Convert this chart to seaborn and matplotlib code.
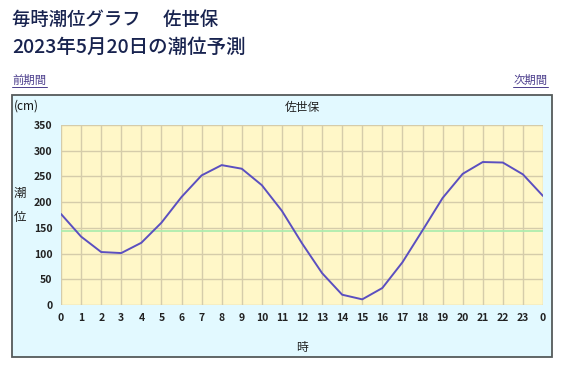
import numpy as np
import pandas as pd
import matplotlib
matplotlib.use("Agg")
import matplotlib.pyplot as plt
import seaborn as sns
from matplotlib.patches import Rectangle

# 毎時潮位 (cm) 0時〜24時
hours = list(range(25))
tide_cm = [177, 133, 103, 101, 121, 160, 210, 252, 272, 265, 233, 183, 120,
           62, 20, 11, 33, 83, 145, 208, 255, 278, 277, 254, 212]
hour_labels = [str(h % 24) for h in hours]
mean_level = 143
yticks = [0, 50, 100, 150, 200, 250, 300, 350]

df = pd.DataFrame({"時": hours, "潮位": tide_cm})

sns.set_theme(style="white")
plt.rcParams["font.family"] = ["Noto Sans CJK JP", "DejaVu Sans"]

fig = plt.figure(figsize=(5.86, 3.69), dpi=100)
W, H = 586, 369

# 外枠 (水色の背景)
box = Rectangle((12 / W, 1 - 357 / H), 540 / W, 262 / H, transform=fig.transFigure,
                facecolor="#e2f9ff", edgecolor="#555a5a", linewidth=1.3, zorder=-5)
fig.patches.append(box)

ax = fig.add_axes([61 / W, 1 - 305 / H, 482 / W, 180 / H])
ax.set_zorder(2)
ax.set_facecolor("#fff7c8")

sns.lineplot(data=df, x="時", y="潮位", ax=ax, color="#5b4fc0", linewidth=1.4, zorder=3)
ax.axhline(mean_level, color="#aeecae", linewidth=1.3, zorder=2)

ax.set_xlim(0, 24)
ax.set_ylim(0, 350)
ax.set_xticks(hours)
ax.set_xticklabels(hour_labels)
ax.set_yticks(yticks)
ax.grid(True, color="#d5ccaa", linewidth=1.0)
ax.set_axisbelow(True)
for s in ax.spines.values():
    s.set_visible(False)
ax.tick_params(axis="both", length=0, labelsize=7.5, colors="#222222", pad=6)
for lbl in ax.get_xticklabels() + ax.get_yticklabels():
    lbl.set_fontweight("bold")
ax.set_xlabel("")
ax.set_ylabel("")

# 見出し
navy = "#18234f"
fig.text(12 / W, 1 - 20 / H, "毎時潮位グラフ　 佐世保", fontsize=13.2, color=navy,
         va="center", fontweight="medium")
fig.text(12 / W, 1 - 47 / H, "2023年5月20日の潮位予測", fontsize=14, color=navy,
         va="center", fontweight="medium")

link = "#4b3d8c"
fig.text(12 / W, 1 - 80 / H, "前期間", fontsize=8.2, color=link, va="center")
fig.text(548 / W, 1 - 80 / H, "次期間", fontsize=8.2, color=link, va="center", ha="right")
fig.add_artist(plt.Line2D([12 / W, 47 / W], [1 - 87 / H] * 2, color=link, linewidth=0.7))
fig.add_artist(plt.Line2D([513 / W, 548 / W], [1 - 87 / H] * 2, color=link, linewidth=0.7))

fig.text(14 / W, 1 - 106 / H, "(cm)", fontsize=8.5, color="#111111", va="center")
fig.text(302 / W, 1 - 107 / H, "佐世保", fontsize=8.5, color="#222222", va="center", ha="center")
fig.text(20 / W, 1 - 193 / H, "潮", fontsize=9, color="#222222", va="center", ha="center")
fig.text(20 / W, 1 - 217 / H, "位", fontsize=9, color="#222222", va="center", ha="center")
fig.text(302 / W, 1 - 347 / H, "時", fontsize=8.5, color="#222222", va="center", ha="center")

fig.savefig("out.png", dpi=100)
